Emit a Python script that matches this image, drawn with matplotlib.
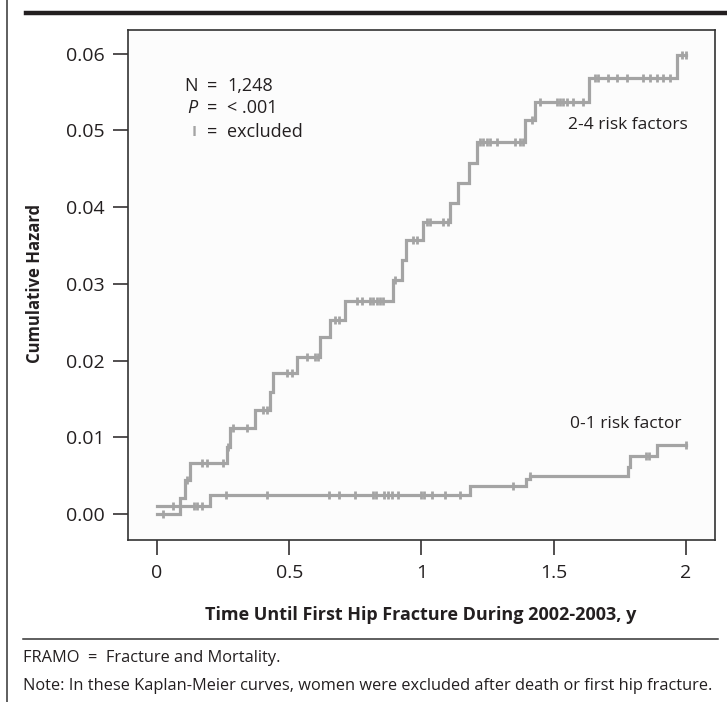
import numpy as np
import matplotlib
matplotlib.use('Agg')
import matplotlib.pyplot as plt
from matplotlib.lines import Line2D

# step times / cumulative hazard levels
t_hi = [0, 0.087, 0.106, 0.125, 0.264, 0.276, 0.37, 0.427, 0.44, 0.53, 0.616, 0.654, 0.711,
        0.893, 0.926, 0.94, 1.006, 1.108, 1.138, 1.18, 1.21, 1.391, 1.43, 1.633, 1.966, 2.0]
h_hi = [0.0, 0.0021, 0.0044, 0.0066, 0.0087, 0.0112, 0.0136, 0.0159, 0.0184, 0.0205, 0.0231, 0.0253, 0.0277,
        0.0305, 0.0331, 0.0357, 0.0381, 0.0405, 0.0432, 0.0458, 0.0485, 0.0514, 0.0537, 0.0569, 0.0599, 0.0599]
cens_hi = [0.023, 0.113, 0.17, 0.189, 0.25, 0.268, 0.287, 0.34, 0.40, 0.416, 0.49, 0.51, 0.567, 0.597, 0.609,
           0.673, 0.69, 0.756, 0.775, 0.805, 0.817, 0.832, 0.843, 0.854, 0.90, 0.968, 0.983,
           1.021, 1.032, 1.081, 1.10, 1.221, 1.233, 1.248, 1.259, 1.285, 1.353, 1.372, 1.384, 1.418,
           1.448, 1.512, 1.524, 1.535, 1.55, 1.573, 1.61, 1.656, 1.667, 1.705, 1.739, 1.777,
           1.837, 1.864, 1.89, 1.913, 1.94, 1.985, 2.0]

t_lo = [0, 0.2, 1.183, 1.395, 1.41, 1.78, 1.79, 1.89, 2.0]
h_lo = [0.001, 0.0025, 0.0037, 0.0045, 0.0050, 0.0061, 0.0076, 0.0090, 0.0090]
cens_lo = [0.06, 0.14, 0.15, 0.17, 0.26, 0.415, 0.65, 0.69, 0.75, 0.816, 0.83, 0.86, 0.875, 0.89, 0.91,
           1.0, 1.01, 1.04, 1.09, 1.145, 1.346, 1.41, 1.85, 1.86, 2.0]

x_ticks = [0, 0.5, 1, 1.5, 2]
x_labels = ['0', '0.5', '1', '1.5', '2']
y_ticks = [0.0, 0.01, 0.02, 0.03, 0.04, 0.05, 0.06]
y_labels = ['0.00', '0.01', '0.02', '0.03', '0.04', '0.05', '0.06']

GREY = '#a4a4a4'
INK = '#231f20'

plt.rcParams['font.family'] = ['Open Sans', 'DejaVu Sans']


def level_at(times, levels, when):
    idx = np.searchsorted(times, when, side='right') - 1
    return np.array(levels)[np.clip(idx, 0, len(levels) - 1)]


def draw_curve(ax, times, levels, cens):
    ax.step(times, levels, where='post', color=GREY, lw=2.3, solid_joinstyle='miter')
    ax.plot(cens, level_at(times, levels, cens), ls='none', marker='|', ms=5.5, mew=2, color=GREY)


W, H = 727, 702
fig = plt.figure(figsize=(W / 100, H / 100), dpi=100)
ax = fig.add_axes([128 / W, 1 - 540 / H, 587 / W, 510 / H])
ax.set_facecolor('#fcfcfc')

draw_curve(ax, t_hi, h_hi, cens_hi)
draw_curve(ax, t_lo, h_lo, cens_lo)

ax.set_xlim(-0.1096, 2.110)
ax.set_ylim(-0.0034, 0.0631)
ax.set_xticks(x_ticks)
ax.set_xticklabels(x_labels)
ax.set_yticks(y_ticks)
ax.set_yticklabels(y_labels)
ax.tick_params(direction='out', length=11, width=1.1, color=INK, labelcolor=INK, labelsize=14, pad=6)
for s in ax.spines.values():
    s.set_linewidth(1.2)
    s.set_color('#333333')

ax.text(2.007, 0.0507, '2-4 risk factors', ha='right', va='center', fontsize=12.5, color=INK)
ax.text(1.985, 0.01174, '0-1 risk factor', ha='right', va='center', fontsize=12.5, color=INK)

# N / P / excluded key
rows_y = [0.05582, 0.05296, 0.04982]
ax.text(0.155, rows_y[0], 'N', ha='right', va='center', fontsize=13, color=INK)
ax.text(0.155, rows_y[1], 'P', ha='right', va='center', fontsize=13, color=INK, style='italic')
ax.text(0.150, rows_y[2], 'I', ha='right', va='center', fontsize=11, color=GREY, fontweight='bold')
for y in rows_y:
    ax.text(0.208, y, '=', ha='center', va='center', fontsize=13, color=INK)
ax.text(0.265, rows_y[0], '1,248', ha='left', va='center', fontsize=13, color=INK)
ax.text(0.265, rows_y[1], '< .001', ha='left', va='center', fontsize=13, color=INK)
ax.text(0.265, rows_y[2], 'excluded', ha='left', va='center', fontsize=13, color=INK)

fig.text(421 / W, 1 - 615 / H, 'Time Until First Hip Fracture During 2002-2003, y',
         ha='center', va='center', fontsize=13, fontweight='bold', color=INK)
fig.text(35 / W, 1 - 283 / H, 'Cumulative Hazard', rotation=90,
         ha='center', va='center', fontsize=12, fontweight='bold', color=INK)

# page furniture
fig.add_artist(Line2D([7 / W, 7 / W], [0, 1], transform=fig.transFigure, color='#333333', lw=1.1))
fig.add_artist(Line2D([26 / W, 1], [1 - 13 / H] * 2, transform=fig.transFigure, color=INK, lw=3.2))
fig.add_artist(Line2D([23 / W, 718 / W], [1 - 639 / H] * 2, transform=fig.transFigure, color='#333333', lw=1.1))

fig.text(23 / W, 1 - 658 / H, 'FRAMO  =  Fracture and Mortality.', ha='left', va='center', fontsize=11.8, color=INK)
fig.text(23 / W, 1 - 686 / H,
         'Note: In these Kaplan-Meier curves, women were excluded after death or first hip fracture.',
         ha='left', va='center', fontsize=11.8, color=INK)

fig.savefig('out.png', dpi=100)
